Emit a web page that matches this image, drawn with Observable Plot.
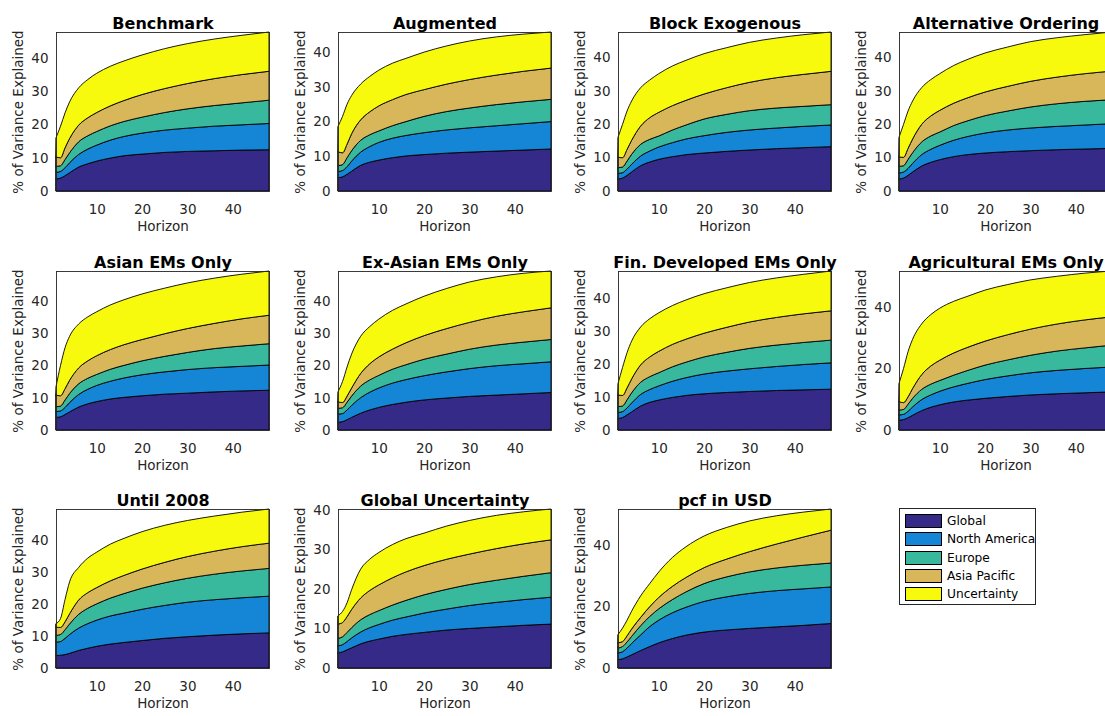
<!DOCTYPE html>
<html><head><meta charset="utf-8">
<script src="https://cdn.jsdelivr.net/npm/d3@7"></script>
<script src="https://cdn.jsdelivr.net/npm/@observablehq/plot@0.6"></script>
<style>
html,body{margin:0;padding:0;background:#fff;overflow:hidden;width:1105px;height:716px}
#root{position:relative;width:1105px;height:716px;overflow:hidden;font-family:"DejaVu Sans",sans-serif}
.panel{position:absolute;width:281px;height:243px}
.panel svg{max-width:none !important;width:281px;height:243px}
.legend{position:absolute;left:899px;top:508px;width:137px;height:97px;border:1px solid #262626;background:#fff;box-sizing:border-box}
.legrow{position:absolute;left:5px;height:14px;display:flex;align-items:center}
.sw{width:37px;height:14px;border:1px solid #000;box-sizing:border-box;margin-right:5px}
.lt{font-size:12.2px;color:#000;white-space:nowrap}
</style></head><body><div id="root"></div>
<script>
const horizons = [1,2,3,4,6,8,10,13,16,20,25,30,36,42,48];
const panelTitles = ["Benchmark","Augmented","Block Exogenous","Alternative Ordering",
  "Asian EMs Only","Ex-Asian EMs Only","Fin. Developed EMs Only","Agricultural EMs Only",
  "Until 2008","Global Uncertainty","pcf in USD"];
const seriesNames = ["Global","North America","Europe","Asia Pacific","Uncertainty"];
const seriesColors = ["#352a87","#1585d6","#38b89d","#d8b65a","#f8fa0d"];
const xTickValues = [10,20,30,40];
const yTickValues = [[0,10,20,30,40],[0,10,20,30,40],[0,10,20,30,40],[0,10,20,30,40],
  [0,10,20,30,40],[0,10,20,30,40],[0,10,20,30,40],[0,20,40],
  [0,10,20,30,40],[0,10,20,30,40],[0,20,40]];

const globalShare = [
  [3.6,3.9,4.6,5.5,7.2,8.2,9.0,9.9,10.6,11.1,11.6,11.9,12.1,12.3,12.4],
  [3.8,4.1,4.8,5.7,7.4,8.3,8.9,9.6,10.1,10.5,10.9,11.2,11.5,11.8,12.1],
  [3.6,3.9,4.7,5.7,7.6,8.7,9.5,10.3,10.9,11.4,11.9,12.3,12.7,13.0,13.3],
  [3.6,3.9,4.7,5.7,7.5,8.6,9.4,10.3,10.9,11.4,11.8,12.1,12.4,12.6,12.8],
  [3.9,4.1,4.8,5.6,7.1,8.1,8.8,9.6,10.1,10.6,11.1,11.4,11.8,12.1,12.3],
  [2.4,2.6,3.2,3.9,5.2,6.2,7.0,7.9,8.6,9.3,9.9,10.4,10.8,11.2,11.6],
  [3.5,3.8,4.6,5.5,7.3,8.4,9.1,9.9,10.5,11.0,11.4,11.7,12.0,12.2,12.4],
  [3.2,3.4,4.0,4.8,6.3,7.4,8.2,9.1,9.7,10.3,10.9,11.4,11.8,12.1,12.4],
  [3.9,4.0,4.2,4.6,5.5,6.2,6.8,7.5,8.0,8.6,9.3,9.8,10.3,10.7,11.0],
  [3.8,4.1,4.6,5.1,6.1,6.8,7.3,8.0,8.5,9.0,9.6,10.0,10.4,10.8,11.1],
  [2.7,3.0,3.6,4.3,5.7,7.0,8.2,9.6,10.7,11.7,12.4,12.9,13.4,13.9,14.5]
];
const northAmericaShare = [
  [2.0,2.0,2.4,3.0,3.8,4.4,4.8,5.4,5.8,6.3,6.7,7.0,7.4,7.6,7.9],
  [1.8,1.8,2.2,2.9,3.8,4.5,5.1,5.6,5.9,6.3,6.7,7.0,7.3,7.6,7.9],
  [1.7,1.6,1.9,2.3,2.9,3.3,3.7,4.2,4.7,5.2,5.7,6.0,6.2,6.4,6.5],
  [1.8,1.8,2.1,2.6,3.4,3.9,4.3,4.9,5.4,6.0,6.5,6.8,7.0,7.2,7.4],
  [1.8,1.8,2.2,2.9,3.9,4.5,5.0,5.5,6.0,6.5,6.9,7.3,7.5,7.6,7.8],
  [2.5,2.5,3.0,3.7,4.8,5.5,6.0,6.6,7.0,7.5,8.1,8.6,9.1,9.3,9.5],
  [1.8,1.8,2.1,2.7,3.5,3.9,4.3,4.9,5.4,6.0,6.5,6.9,7.3,7.7,8.0],
  [1.7,1.7,2.1,2.7,3.6,4.0,4.4,4.9,5.4,6.1,6.7,7.2,7.6,7.9,8.1],
  [4.2,4.3,5.1,5.9,7.0,7.7,8.2,8.8,9.2,9.8,10.3,10.8,11.1,11.3,11.5],
  [1.8,1.8,2.1,2.5,3.0,3.4,3.7,4.1,4.4,4.9,5.3,5.8,6.2,6.5,6.8],
  [2.2,2.3,2.9,3.7,5.1,6.5,7.4,8.4,9.1,10.0,10.8,11.4,11.8,11.9,11.9]
];
const europeShare = [
  [1.8,1.7,2.5,3.0,3.8,4.0,4.1,4.3,4.5,4.8,5.3,5.8,6.2,6.6,7.0],
  [1.7,1.7,2.6,3.0,3.4,3.4,3.3,3.6,4.0,4.7,5.3,5.7,6.1,6.3,6.4],
  [1.7,1.7,2.4,3.0,3.5,3.5,3.3,3.8,4.2,5.0,5.4,5.8,6.0,6.0,6.1],
  [2.0,1.9,2.7,3.2,3.8,4.0,4.0,4.4,4.7,5.2,5.7,6.3,6.8,7.1,7.2],
  [1.5,1.5,2.3,2.8,3.3,3.4,3.4,3.7,3.9,4.3,4.8,5.3,5.9,6.3,6.6],
  [1.8,1.8,2.4,2.9,3.6,3.8,3.9,4.3,4.6,5.1,5.5,6.0,6.4,6.7,6.9],
  [1.8,1.7,2.5,3.1,3.7,3.9,4.0,4.4,4.7,5.2,5.7,6.2,6.5,6.7,6.9],
  [1.6,1.6,2.3,2.8,3.3,3.5,3.5,3.8,4.2,4.7,5.2,5.7,6.3,6.7,7.1],
  [2.1,2.2,2.7,3.3,4.3,4.8,5.1,5.6,6.1,6.6,7.1,7.5,8.0,8.4,8.7],
  [1.9,2.0,2.3,2.6,3.1,3.3,3.5,3.8,4.2,4.6,5.0,5.3,5.6,5.9,6.2],
  [1.6,1.7,2.0,2.3,3.0,3.3,3.7,4.3,5.0,5.8,6.5,7.0,7.4,7.7,7.8]
];
const asiaPacificShare = [
  [2.8,2.4,3.5,4.3,5.0,5.4,5.7,6.0,6.3,6.8,7.2,7.6,8.1,8.5,8.7],
  [4.0,3.4,3.9,4.9,5.9,6.6,7.2,7.5,7.8,7.7,7.9,8.2,8.5,8.8,9.0],
  [3.1,2.8,3.5,4.2,5.5,6.5,7.1,7.3,7.4,7.5,8.0,8.5,9.1,9.6,10.0],
  [2.8,2.5,3.3,4.1,5.3,6.0,6.5,6.7,6.9,7.1,7.4,7.7,8.0,8.3,8.6],
  [3.6,3.2,3.5,4.1,4.9,5.4,5.8,6.1,6.4,6.6,7.0,7.4,7.8,8.4,8.8],
  [2.0,1.6,1.9,2.5,3.9,5.0,5.7,6.2,6.8,7.3,7.9,8.3,8.9,9.4,9.8],
  [3.5,3.2,3.6,4.2,5.3,6.0,6.5,6.8,7.0,7.2,7.6,8.0,8.4,8.7,8.9],
  [2.7,2.2,2.4,3.2,4.8,5.9,6.6,7.2,7.5,7.8,8.2,8.5,8.8,9.1,9.2],
  [2.6,2.2,2.5,3.2,4.5,4.9,5.1,5.4,5.7,6.0,6.4,6.8,7.2,7.6,7.9],
  [3.6,3.6,4.0,4.6,5.5,6.1,6.5,6.9,7.2,7.4,7.6,7.7,8.0,8.2,8.3],
  [1.7,1.6,2.0,2.4,2.7,3.2,3.7,4.3,4.7,5.2,5.8,6.6,7.8,9.2,10.7]
];
const uncertaintyShare = [
  [5.8,9.5,10.5,11.0,11.2,11.5,11.8,11.9,11.9,11.9,12.0,12.0,11.9,11.8,11.8],
  [7.3,10.5,11.5,11.0,10.3,10.2,10.3,10.5,10.4,10.8,11.0,11.1,11.0,10.7,10.4],
  [6.0,10.0,11.5,11.8,11.5,11.3,11.6,11.9,12.0,12.1,12.0,12.0,11.9,11.9,11.8],
  [5.9,9.9,11.2,11.4,11.0,10.9,11.0,11.3,11.5,11.7,11.8,11.9,11.8,11.7,11.7],
  [2.6,9.4,12.7,13.6,13.6,13.6,13.6,13.8,13.9,14.1,14.1,14.1,14.0,13.8,13.7],
  [3.1,6.5,9.0,10.5,11.5,11.5,11.7,12.0,12.0,12.2,12.4,12.5,12.2,11.9,11.4],
  [3.5,8.5,10.7,11.5,11.5,11.6,11.7,11.8,11.9,12.0,12.0,12.0,12.0,12.0,12.1],
  [5.9,11.1,14.7,16.0,16.5,16.7,16.9,16.8,16.6,16.6,16.3,16.0,15.5,15.2,14.9],
  [1.1,2.8,7.0,10.0,10.2,10.8,11.1,11.5,11.6,11.7,11.6,11.3,11.0,10.8,10.7],
  [2.1,2.8,3.5,5.0,7.3,7.9,8.2,8.4,8.4,8.2,8.4,8.5,8.4,8.1,7.8],
  [2.7,4.4,5.1,5.8,7.0,7.5,8.3,9.4,10.0,10.3,10.3,10.0,9.2,8.1,6.9]
];

const seriesData = [globalShare, northAmericaShare, europeShare, asiaPacificShare, uncertaintyShare];

// layout
const colLeft = [56, 338, 618, 899];
const rowTop = [32, 271, 509];
const PW = 213, PH = 159;
const ML = 56, MR = 12, MT = 32, MB = 52;

const root = document.getElementById("root");

panelTitles.forEach((title, p) => {
  const rows = [];
  seriesNames.forEach((name, s) => {
    horizons.forEach((h, i) => rows.push({h, series: name, value: seriesData[s][p][i]}));
  });
  const chart = Plot.plot({
    width: ML + PW + MR,
    height: MT + PH + MB,
    marginLeft: ML, marginRight: MR, marginTop: MT, marginBottom: MB,
    style: {fontFamily: "'DejaVu Sans', sans-serif", fontSize: "13.5px", color: "#262626", background: "transparent", overflow: "visible"},
    x: {domain: d3.extent(horizons), label: null},
    y: {label: null},
    color: {domain: seriesNames, range: seriesColors},
    marks: [
      Plot.areaY(rows, {x: "h", y: "value", z: "series", fill: "series", stroke: "#000", strokeWidth: 0.9, curve: "monotone-x"}),
      Plot.frame({stroke: "#262626", strokeWidth: 0.9}),
      Plot.axisX({ticks: xTickValues, tickSize: 0, tickPadding: 13, fontSize: 13.5, label: null}),
      Plot.axisY({ticks: yTickValues[p], tickSize: 0, tickPadding: 8, fontSize: 13.5, label: null}),
      Plot.text([title], {frameAnchor: "top", dy: -15, fontSize: 16, fontWeight: "bold", fill: "#000", textAnchor: "middle"}),
      Plot.text(["Horizon"], {frameAnchor: "bottom", dy: 39, fontSize: 13.5, fill: "#262626", textAnchor: "middle"}),
      Plot.text(["% of Variance Explained"], {frameAnchor: "left", rotate: -90, dx: -38, fontSize: 13.5, fill: "#262626", textAnchor: "middle"})
    ]
  });
  const div = document.createElement("div");
  div.className = "panel";
  const col = p % 4, row = Math.floor(p / 4);
  div.style.left = (colLeft[col] - ML) + "px";
  div.style.top = (rowTop[row] - MT) + "px";
  div.appendChild(chart);
  root.appendChild(div);
});

// legend
const leg = document.createElement("div");
leg.className = "legend";
seriesNames.forEach((name, i) => {
  const r = document.createElement("div");
  r.className = "legrow";
  r.style.top = (5 + i * 18.3) + "px";
  const sw = document.createElement("div");
  sw.className = "sw";
  sw.style.background = seriesColors[i];
  const t = document.createElement("span");
  t.className = "lt";
  t.textContent = name;
  r.appendChild(sw); r.appendChild(t);
  leg.appendChild(r);
});
root.appendChild(leg);
</script>
</body></html>
